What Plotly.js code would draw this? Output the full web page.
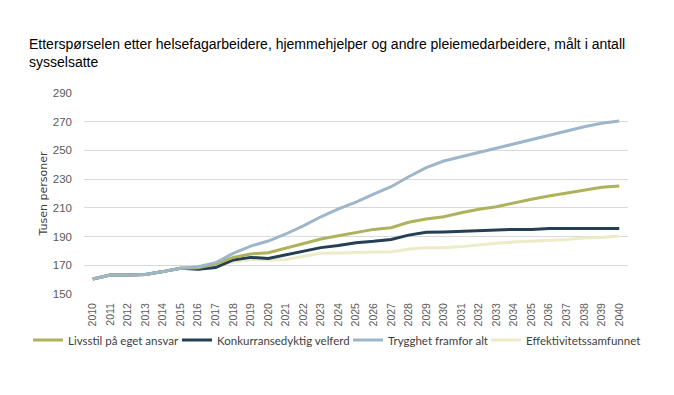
<!DOCTYPE html>
<html>
<head>
<meta charset="utf-8">
<script src="https://cdn.plot.ly/plotly-3.0.1.min.js"></script>
<style>html,body{margin:0;padding:0;background:#fff}#chart{width:674px;height:395px}</style>
</head>
<body>
<div id="chart"></div>
<script>
const years = ["2010","2011","2012","2013","2014","2015","2016","2017","2018","2019","2020","2021","2022","2023","2024","2025","2026","2027","2028","2029","2030","2031","2032","2033","2034","2035","2036","2037","2038","2039","2040"];
const livsstil = [160.5,163.2,163.3,163.6,165.6,167.9,168.3,170.9,175.5,177.9,178.8,181.8,185.3,188.3,190.5,192.7,195,196.2,200,202.2,203.8,206.6,209,210.8,213.6,216,218.2,220.1,222.4,224.3,225.2];
const konkurranse = [160.5,163.2,163.3,163.6,165.6,167.9,167.2,168.4,173.7,175.5,174.8,177.2,180,182.3,183.8,185.7,186.7,188,191,193,193.2,193.7,194.4,194.6,195,195,195.7,195.7,195.7,195.7,195.7];
const trygghet = [160.5,163.2,163.3,163.6,165.6,167.9,169,171.8,178.3,183.4,186.9,191.8,197.4,203.8,209.3,214,219.6,224.7,231.7,238,242.6,245.6,249,252,255,257.7,260.7,263.7,266.5,268.9,270.5];
const effektivitet = [160.5,163.2,163.3,163.6,165.6,167.9,168.3,170.5,172.3,174.1,173.7,174.1,176,178.3,178.6,179,179.2,179.2,181.3,182.3,182.3,183,184.4,185.3,186.2,186.7,187.6,188,189,189.4,190.4];
const seriesNames = ["Livsstil på eget ansvar","Konkurransedyktig velferd","Trygghet framfor alt","Effektivitetssamfunnet"];
const yTicks = [150,170,190,210,230,250,270,290];

const colors = ["#AEB25A","#253F54","#9DB6C9","#EDEBC8"];
const legendIds = ["legend","legend2","legend3","legend4"];
const traces = [livsstil, konkurranse, trygghet, effektivitet].map((vals,i)=>({
  type:"scatter", mode:"lines", x:years, y:vals, name:seriesNames[i],
  line:{color:colors[i], width:3}, legend:legendIds[i]
}));
const drawn = [traces[3], traces[1], traces[0], traces[2]];

const legendFont = {family:"Lato, sans-serif", size:11.5, color:"#404040"};
const legendXs = [-0.1029, 0.1710, 0.4853, 0.7390];
const mkLegend = (x)=>({orientation:"h", x:x, xanchor:"left", y:-0.229, yanchor:"middle",
  itemwidth:30, bgcolor:"rgba(0,0,0,0)", font:legendFont});

const layout = {
  width:674, height:395,
  margin:{l:84, r:46, t:93, b:101},
  paper_bgcolor:"#fff", plot_bgcolor:"#fff",
  title:{text:"Etterspørselen etter helsefagarbeidere, hjemmehjelper og andre pleiemedarbeidere, målt i antall<br>sysselsatte",
    x:29/674, xanchor:"left", y:1-49/395, yanchor:"top",
    font:{family:"Liberation Sans, Arial, sans-serif", size:14, color:"#000"}},
  xaxis:{type:"category", range:[-0.5,30.5], tickangle:-90, showgrid:false, zeroline:false,
    showline:false, ticks:"", ticklabelstandoff:6,
    tickfont:{family:"Liberation Sans, Arial, sans-serif", size:10.5, color:"#595959"}},
  yaxis:{range:[150,290], tickvals:yTicks, ticktext:yTicks.map(String), showgrid:true, gridcolor:"#D9D9D9", gridwidth:1,
    zeroline:false, showline:false, ticks:"", ticklabelstandoff:11,
    tickfont:{family:"Liberation Sans, Arial, sans-serif", size:11.5, color:"#595959"},
    title:{text:"Tusen personer", standoff:2, font:{family:"DejaVu Sans, sans-serif", size:11, color:"#404040"}}},
  showlegend:true,
  legend:mkLegend(legendXs[0]),
  legend2:mkLegend(legendXs[1]),
  legend3:mkLegend(legendXs[2]),
  legend4:mkLegend(legendXs[3])
};
Plotly.newPlot("chart", drawn, layout, {staticPlot:true, displayModeBar:false});
</script>
</body>
</html>
